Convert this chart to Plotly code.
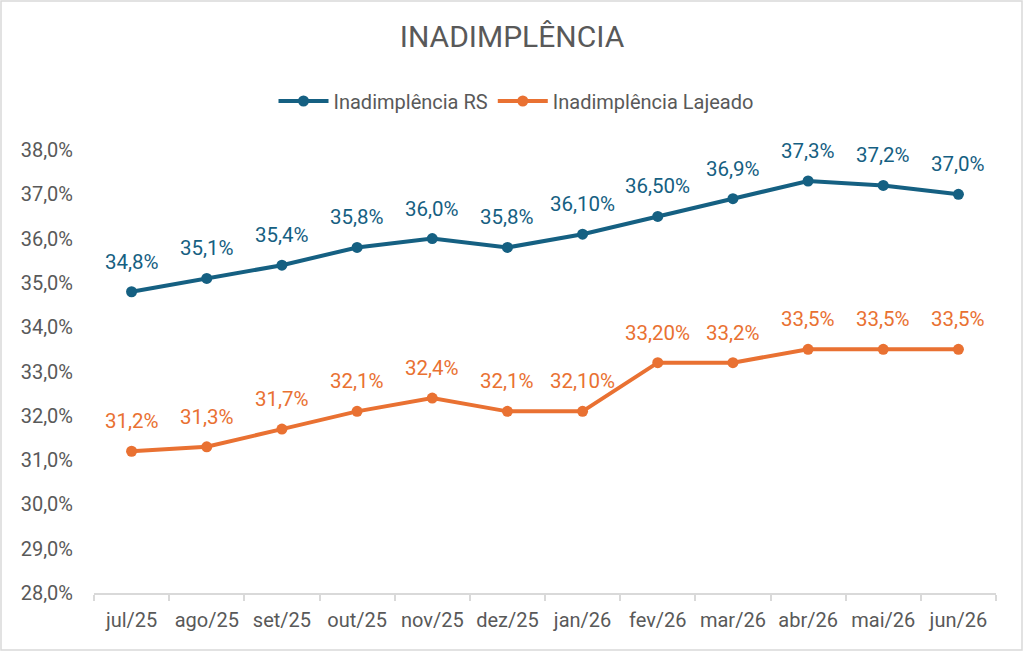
import plotly.graph_objects as go

categories = ["jul/25", "ago/25", "set/25", "out/25", "nov/25", "dez/25",
              "jan/26", "fev/26", "mar/26", "abr/26", "mai/26", "jun/26"]
rs_values = [34.8, 35.1, 35.4, 35.8, 36.0, 35.8, 36.1, 36.5, 36.9, 37.3, 37.2, 37.0]
rs_labels = ["34,8%", "35,1%", "35,4%", "35,8%", "36,0%", "35,8%",
             "36,10%", "36,50%", "36,9%", "37,3%", "37,2%", "37,0%"]
laj_values = [31.2, 31.3, 31.7, 32.1, 32.4, 32.1, 32.1, 33.2, 33.2, 33.5, 33.5, 33.5]
laj_labels = ["31,2%", "31,3%", "31,7%", "32,1%", "32,4%", "32,1%",
              "32,10%", "33,20%", "33,2%", "33,5%", "33,5%", "33,5%"]
y_ticks = [28, 29, 30, 31, 32, 33, 34, 35, 36, 37, 38]

BLUE = "#156082"
ORANGE = "#E97132"
GRAY = "#595959"
FONT = "Roboto"

fig = go.Figure()
fig.add_trace(go.Scatter(x=categories, y=rs_values, mode="lines+markers",
                         name="Inadimplência RS",
                         line=dict(color=BLUE, width=4),
                         marker=dict(color=BLUE, size=11)))
fig.add_trace(go.Scatter(x=categories, y=laj_values, mode="lines+markers",
                         name="Inadimplência Lajeado",
                         line=dict(color=ORANGE, width=4),
                         marker=dict(color=ORANGE, size=11)))

annotations = []
for c, v, t in zip(categories, rs_values, rs_labels):
    annotations.append(dict(x=c, y=v, text=t, showarrow=False, yshift=30,
                            font=dict(color=BLUE, size=20.5, family=FONT)))
for c, v, t in zip(categories, laj_values, laj_labels):
    annotations.append(dict(x=c, y=v, text=t, showarrow=False, yshift=30,
                            font=dict(color=ORANGE, size=20.5, family=FONT)))

L, R, T, B = 94, 28, 150, 59
W, H = 1024, 652
pw, ph = W - L - R, H - T - B

fig.update_layout(
    width=W, height=H,
    margin=dict(l=L, r=R, t=T, b=B),
    paper_bgcolor="white", plot_bgcolor="white",
    separators=",.",
    font=dict(family=FONT, color=GRAY, size=20),
    title=dict(text="INADIMPLÊNCIA", x=0.5, xanchor="center", y=1 - 36 / H,
               yanchor="middle", font=dict(size=30, color=GRAY, family=FONT)),
    legend=dict(orientation="h", x=(516 - L) / pw, xanchor="center",
                y=(H - B - 101) / ph, yanchor="middle",
                font=dict(size=20, color=GRAY, family=FONT),
                itemwidth=50, traceorder="normal"),
    annotations=annotations,
    xaxis=dict(type="category", showgrid=False, showline=True,
               linecolor="#D9D9D9", linewidth=2, automargin=False,
               ticks="outside", tickson="boundaries", ticklen=6,
               tickcolor="#D9D9D9", tickwidth=2, ticklabelstandoff=8,
               tickangle=0,
               tickfont=dict(size=20, color=GRAY),
               range=[-0.5, len(categories) - 0.5]),
    yaxis=dict(range=[28, 38], tickvals=y_ticks, automargin=False,
               ticktext=[f"{v:.1f}%".replace(".", ",") for v in y_ticks],
               showgrid=False, showline=False, zeroline=False,
               ticks="", ticklabelstandoff=20,
               tickfont=dict(size=20, color=GRAY)),
    shapes=[dict(type="rect", xref="paper", yref="paper",
                 x0=(1 - L) / pw, x1=(W - 2 - L) / pw,
                 y0=-(B - 2) / ph, y1=(H - B - 1) / ph,
                 line=dict(color="#D9D9D9", width=1.5), layer="below")],
)

fig.write_html("out.html", config={"displayModeBar": False},
               post_script="document.body.style.margin='0';document.body.style.overflow='hidden';")
